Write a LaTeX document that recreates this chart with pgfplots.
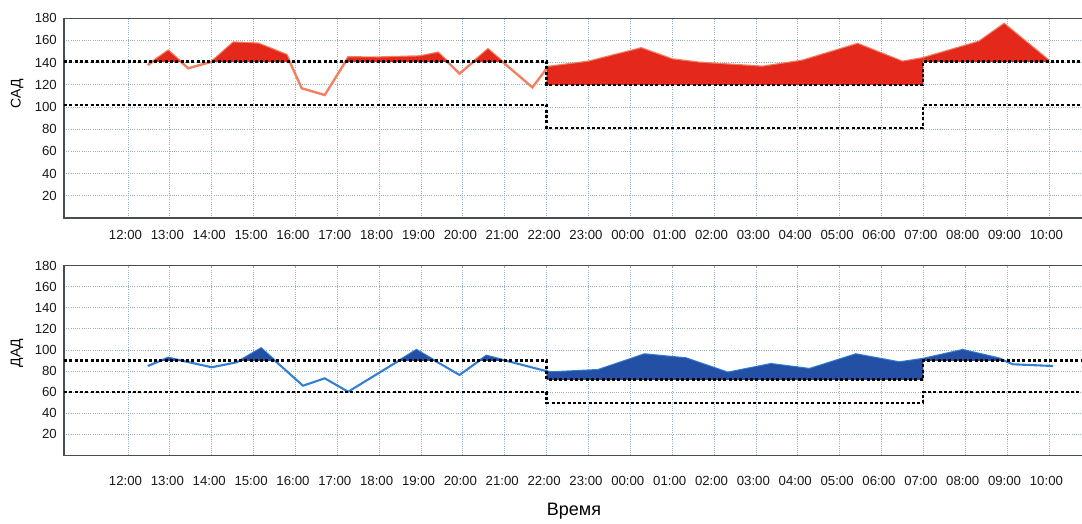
\documentclass[border=0pt]{standalone}
\usepackage{fontspec}
\setmainfont{Liberation Sans}
\usepackage{pgfplots}
\usepackage{pgfplotstable}
\pgfplotsset{compat=1.18}

\definecolor{sbpline}{RGB}{242,128,98}
\definecolor{sbpfill}{RGB}{228,40,28}
\definecolor{dbpline}{RGB}{50,128,212}
\definecolor{dbpfill}{RGB}{35,80,165}
\definecolor{gridc}{RGB}{150,175,198}
\definecolor{framec}{RGB}{70,78,82}

\pgfplotstableread{
x y
0.47 137.7
0.96 150.6
1.44 134.8
2.00 140.7
2.52 158
3.11 157
3.79 146.8
4.15 116.8
4.70 110.7
5.26 144.6
6.00 144.5
6.97 145.5
7.41 148.8
7.92 130
8.60 151.9
9.66 117.6
10.03 136
11.00 140.7
12.26 152.8
13.00 142.8
13.65 139.8
15.16 136.2
16.10 141.5
17.43 156.7
18.50 140.7
18.98 143.8
20.33 158.7
20.93 174.7
22.00 141.6
}\sbp

\pgfplotstableread{
x y
0.47 84.8
0.96 92.7
2.00 83.6
2.60 88.3
3.18 101.6
4.18 66.1
4.70 73.1
5.26 60.4
6.89 100
7.92 76.3
8.56 94.6
9.95 80.4
10.10 78.8
11.23 81
12.34 95.9
13.33 92.1
14.33 78.5
15.36 86.7
16.28 82
17.39 95.9
18.43 88.3
18.98 91.5
19.94 100
20.81 92
21.14 86.4
22.10 84.8
}\dbp

\tikzset{thr/.style={black, line width=2.3pt, dash pattern=on 3pt off 2.3pt}}

\pgfplotsset{
  bpaxis/.style={
    scale only axis,
    width=1019pt,
    xmin=-1.529, xmax=22.814,
    ymin=0, ymax=180,
    xtick={0,1,...,22},
    xticklabels={12:00,13:00,14:00,15:00,16:00,17:00,18:00,19:00,20:00,21:00,22:00,23:00,00:00,01:00,02:00,03:00,04:00,05:00,06:00,07:00,08:00,09:00,10:00},
    ytick={20,40,...,180},
    major tick length=0pt,
    grid=major,
    grid style={gridc, line width=0.8pt, dash pattern=on 1pt off 1.2pt},
    axis line style={framec, line width=1.2pt},
    tick label style={font=\fontsize{13.2}{14}\selectfont, text=black!90},
    /pgf/number format/assume math mode=true,
    yticklabel style={anchor=east, inner sep=0pt, xshift=-7pt},
    every axis y label/.style={rotate=90, anchor=center, font=\fontsize{14}{15}\selectfont},
  }
}

\begin{document}
\begin{tikzpicture}
\useasboundingbox (0pt,-523pt) rectangle (1082pt,0pt);

% ---------- SBP ----------
\begin{axis}[bpaxis,
  at={(64pt,-217.9pt)}, anchor=south west,
  height=199.8pt,
  xticklabel style={anchor=base, yshift=-21.1pt, xshift=-2.5pt},
  ylabel={САД},
  every axis y label/.append style={at={(axis description cs:-0.0461,0.62)}},
]
\addplot[sbpline, line width=2.4pt] table {\sbp};
\begin{scope}
\clip (axis cs:-2,141) rectangle (axis cs:10,190);
\addplot[draw=none, fill=sbpfill] table {\sbp} \closedcycle;
\end{scope}
\begin{scope}
\clip (axis cs:10,120) rectangle (axis cs:19,190);
\addplot[draw=none, fill=sbpfill] table {\sbp} \closedcycle;
\end{scope}
\begin{scope}
\clip (axis cs:19,141) rectangle (axis cs:24,190);
\addplot[draw=none, fill=sbpfill] table {\sbp} \closedcycle;
\end{scope}
\addplot[thr] coordinates {(-1.529,141) (10,141) (10,120) (19,120) (19,141) (22.814,141)};
\addplot[thr] coordinates {(-1.529,102) (10,102) (10,81) (19,81) (19,102) (22.814,102)};
\end{axis}

% ---------- DBP ----------
\begin{axis}[bpaxis,
  at={(64pt,-455.4pt)}, anchor=south west,
  height=189.8pt,
  xticklabel style={anchor=base, yshift=-30.3pt, xshift=-2.5pt},
  ylabel={ДАД},
  every axis y label/.append style={at={(axis description cs:-0.0461,0.54)}},
  xlabel={Время},
  every axis x label/.style={at={(axis description cs:0.5005,-0.319)}, anchor=base, font=\fontsize{18}{19}\selectfont},
]
\addplot[dbpline, line width=2.1pt] table {\dbp};
\begin{scope}
\clip (axis cs:-2,90) rectangle (axis cs:10,190);
\addplot[draw=none, fill=dbpfill] table {\dbp} \closedcycle;
\end{scope}
\begin{scope}
\clip (axis cs:10,72) rectangle (axis cs:19,190);
\addplot[draw=none, fill=dbpfill] table {\dbp} \closedcycle;
\end{scope}
\begin{scope}
\clip (axis cs:19,90) rectangle (axis cs:24,190);
\addplot[draw=none, fill=dbpfill] table {\dbp} \closedcycle;
\end{scope}
\addplot[thr] coordinates {(-1.529,90) (10,90) (10,72) (19,72) (19,90) (22.814,90)};
\addplot[thr] coordinates {(-1.529,60) (10,60) (10,50) (19,50) (19,60) (22.814,60)};
\end{axis}
\end{tikzpicture}
\end{document}
